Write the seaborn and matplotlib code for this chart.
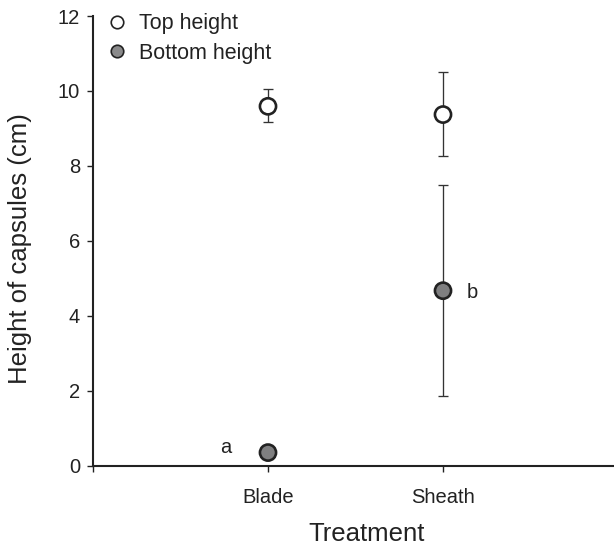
import matplotlib
matplotlib.use("Agg")
import matplotlib.pyplot as plt
import seaborn as sns
import pandas as pd
from matplotlib.lines import Line2D

treatments = ["Blade", "Sheath"]
top_mean = [9.59, 9.37]
top_low = [9.16, 8.27]
top_high = [10.05, 10.50]
bottom_mean = [0.35, 4.67]
bottom_low = [0.30, 1.86]
bottom_high = [0.40, 7.50]
letters = ["a", "b"]

sns.set_style("ticks")
plt.rcParams['font.family'] = ['Liberation Sans', 'DejaVu Sans']

INK = "#222222"
fig = plt.figure(figsize=(6.14, 5.47), dpi=100)
ax = fig.add_axes([93 / 614, 1 - 465.7 / 547, 1 - 93 / 614, (465.7 - 16) / 547])

pos = {t: i + 1 for i, t in enumerate(treatments)}
rows = []
for i, t in enumerate(treatments):
    rows.append(dict(Treatment=t, x=pos[t], y=top_mean[i], lo=top_low[i], hi=top_high[i], series="Top height"))
    rows.append(dict(Treatment=t, x=pos[t], y=bottom_mean[i], lo=bottom_low[i], hi=bottom_high[i], series="Bottom height"))
df = pd.DataFrame(rows)

for s in ["Top height", "Bottom height"]:
    d = df[df.series == s]
    ax.errorbar(d.x, d.y, yerr=[d.y - d.lo, d.hi - d.y], fmt="none",
                ecolor="#333333", elinewidth=0.95, capsize=3.4, capthick=0.95, zorder=2)

sns.scatterplot(data=df, x="x", y="y", hue="series",
                palette={"Top height": "white", "Bottom height": "#7f7f80"},
                edgecolor=INK, linewidth=1.9, s=135, ax=ax, legend=False, zorder=3)

ax.text(pos["Blade"] - 0.242, 0.33, letters[0], fontsize=14.5, color=INK, ha="center", va="baseline")
ax.text(pos["Sheath"] + 0.17, 4.47, letters[1], fontsize=14.5, color=INK, ha="center", va="baseline")

ax.set_xlim(0, (614 - 93) / 175)
ax.set_ylim(0, 12)
ax.set_xticks([0, 1, 2])
ax.set_xticklabels(["", "Blade", "Sheath"])
ax.set_yticks([0, 2, 4, 6, 8, 10, 12])
ax.tick_params(axis="both", labelsize=14.5, colors=INK, width=1.0, length=4.2, direction="out")
ax.tick_params(axis="x", pad=12)
ax.tick_params(axis="y", pad=5)
ax.set_xlabel("Treatment", fontsize=18.5, color=INK)
ax.set_ylabel("Height of capsules (cm)", fontsize=18.5, color=INK)
ax.xaxis.set_label_coords((367 - 93) / 521, (465.7 - 522) / 449.7)
ax.yaxis.set_label_coords(-0.117, 0.483)
sns.despine(ax=ax)
for sp in ["left", "bottom"]:
    ax.spines[sp].set_linewidth(1.5)
    ax.spines[sp].set_color(INK)

handles = [
    Line2D([], [], ls="none", marker="o", markersize=9, markerfacecolor="white",
           markeredgecolor=INK, markeredgewidth=1.2, label="Top height"),
    Line2D([], [], ls="none", marker="o", markersize=9, markerfacecolor="#8a8a8b",
           markeredgecolor=INK, markeredgewidth=1.2, label="Bottom height"),
]
ax.legend(handles=handles, loc="upper left", bbox_to_anchor=(0.025, 1.006), frameon=False,
          fontsize=15.5, handletextpad=0.54, labelspacing=0.39, handlelength=1.0,
          borderpad=0, borderaxespad=0, labelcolor=INK)

fig.savefig("out.png", dpi=100)
